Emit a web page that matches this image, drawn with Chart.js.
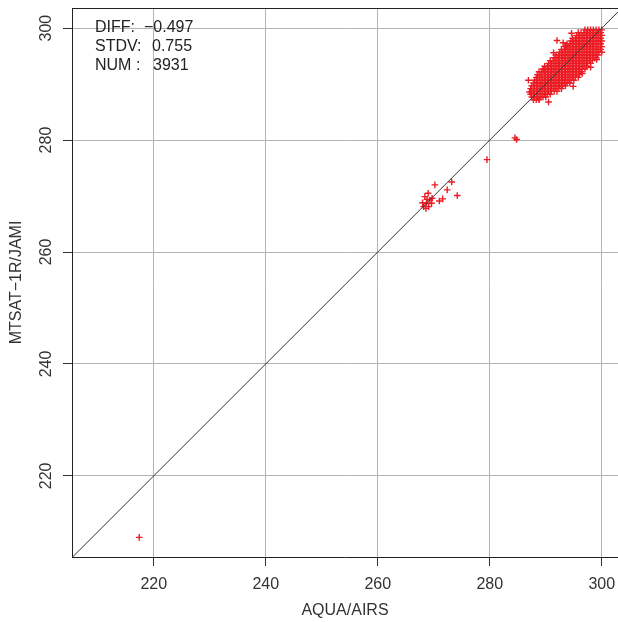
<!DOCTYPE html>
<html lang="en">
<head>
    <meta charset="UTF-8">
    <title>MTSAT-1R/JAMI vs AQUA/AIRS</title>
    <style>
        html, body {
            margin: 0;
            padding: 0;
            background: #ffffff;
            overflow: hidden;
        }
        .chart-box {
            width: 618px;
            height: 622px;
        }
    </style>
</head>
<body>

    <div class="chart-box">
        <canvas id="scatter"></canvas>
    </div>

    <script src="https://cdn.jsdelivr.net/npm/chart.js"></script>
    <script>
        // axis ticks and limits
        const xTicks = [220, 240, 260, 280, 300];
        const yTicks = [220, 240, 260, 280, 300];
        const xLimits = [205.4, 302.9];
        const yLimits = [205.5, 303.6];

        // 1:1 reference line
        const lineX = [200, 310];
        const lineY = [200, 310];

        // statistics printed in the corner
        const statLabels = ["DIFF:", "STDV:", "NUM :"];
        const statValues = ["\u22120.497", "0.755", "3931"];

        // dense cloud near 290-300 K, read row by row (y value, then x values)
        const cloudY = [299.7, 299.2, 298.7, 298.2, 297.7, 297.2, 296.7, 296.2, 295.7, 295.2,
                        294.7, 294.2, 293.7, 293.2, 292.7, 292.2, 291.7, 291.2, 290.7, 290.2,
                        289.7, 289.2, 288.7, 288.2, 287.7, 287.2];
        const cloudX = [
            [297.0, 297.5, 298.0, 298.5, 299.0, 299.5, 300.0],
            [295.8, 296.3, 296.8, 297.3, 297.8, 298.3, 298.8, 299.3, 299.8],
            [295.5, 296.0, 296.5, 297.0, 297.5, 298.0, 298.5, 299.0, 299.5, 300.0],
            [294.8, 295.3, 295.8, 296.3, 296.8, 297.3, 297.8, 298.3, 298.8, 299.3, 299.8],
            [294.5, 295.0, 295.5, 296.0, 296.5, 297.0, 297.5, 298.0, 298.5, 299.0, 299.5, 300.0],
            [293.8, 294.3, 294.8, 295.3, 295.8, 296.3, 296.8, 297.3, 297.8, 298.3, 298.8, 299.3, 299.8],
            [293.5, 294.0, 294.5, 295.0, 295.5, 296.0, 296.5, 297.0, 297.5, 298.0, 298.5, 299.0, 299.5, 300.0],
            [292.8, 293.3, 293.8, 294.3, 294.8, 295.3, 295.8, 296.3, 296.8, 297.3, 297.8, 298.3, 298.8, 299.3, 299.8],
            [292.5, 293.0, 293.5, 294.0, 294.5, 295.0, 295.5, 296.0, 296.5, 297.0, 297.5, 298.0, 298.5, 299.0, 299.5, 300.0],
            [291.8, 292.3, 292.8, 293.3, 293.8, 294.3, 294.8, 295.3, 295.8, 296.3, 296.8, 297.3, 297.8, 298.3, 298.8, 299.3],
            [291.5, 292.0, 292.5, 293.0, 293.5, 294.0, 294.5, 295.0, 295.5, 296.0, 296.5, 297.0, 297.5, 298.0, 298.5, 299.0],
            [290.8, 291.3, 291.8, 292.3, 292.8, 293.3, 293.8, 294.3, 294.8, 295.3, 295.8, 296.3, 296.8, 297.3, 297.8, 298.3],
            [290.5, 291.0, 291.5, 292.0, 292.5, 293.0, 293.5, 294.0, 294.5, 295.0, 295.5, 296.0, 296.5, 297.0, 297.5, 298.0],
            [289.8, 290.3, 290.8, 291.3, 291.8, 292.3, 292.8, 293.3, 293.8, 294.3, 294.8, 295.3, 295.8, 296.3, 296.8, 297.3],
            [289.5, 290.0, 290.5, 291.0, 291.5, 292.0, 292.5, 293.0, 293.5, 294.0, 294.5, 295.0, 295.5, 296.0, 296.5, 297.0],
            [288.8, 289.3, 289.8, 290.3, 290.8, 291.3, 291.8, 292.3, 292.8, 293.3, 293.8, 294.3, 294.8, 295.3, 295.8, 296.3],
            [288.5, 289.0, 289.5, 290.0, 290.5, 291.0, 291.5, 292.0, 292.5, 293.0, 293.5, 294.0, 294.5, 295.0, 295.5, 296.0],
            [288.3, 288.8, 289.3, 289.8, 290.3, 290.8, 291.3, 291.8, 292.3, 292.8, 293.3, 293.8, 294.3, 294.8, 295.3],
            [288.0, 288.5, 289.0, 289.5, 290.0, 290.5, 291.0, 291.5, 292.0, 292.5, 293.0, 293.5, 294.0, 294.5, 295.0],
            [287.8, 288.3, 288.8, 289.3, 289.8, 290.3, 290.8, 291.3, 291.8, 292.3, 292.8, 293.3, 293.8, 294.3],
            [287.5, 288.0, 288.5, 289.0, 289.5, 290.0, 290.5, 291.0, 291.5, 292.0, 292.5, 293.0, 293.5],
            [287.3, 287.8, 288.3, 288.8, 289.3, 289.8, 290.3, 290.8, 291.3, 291.8, 292.3, 292.8],
            [287.5, 288.0, 288.5, 289.0, 289.5, 290.0, 290.5, 291.0, 291.5, 292.0],
            [287.3, 287.8, 288.3, 288.8, 289.3, 289.8, 290.3, 290.8],
            [287.5, 288.0, 288.5, 289.0, 289.5, 290.0],
            [287.8, 288.3, 288.8]
        ];

        // scattered points: cloud edges, the 268-274 K group and lone outliers
        const looseX = [291.4, 294.6, 293.1, 292.0, 286.9, 287.1, 290.5, 288.8, 299.1, 294.9,
                        295.8, 289.6, 293.7, 296.5, 298.0,
                        268.4, 269.0, 269.3, 268.7, 268.2, 268.6, 269.6, 268.0, 269.1, 269.7,
                        268.8, 270.2, 273.2, 272.4, 274.2, 271.6, 271.0,
                        279.5, 284.5, 284.8, 217.4];
        const looseY = [295.6, 299.1, 297.4, 297.8, 290.7, 288.6, 286.8, 287.3, 294.4, 289.6,
                        291.2, 292.6, 296.9, 291.9, 293.0,
                        269.9, 270.5, 269.3, 268.7, 268.1, 267.8, 268.7, 268.8, 268.1, 269.6,
                        269.4, 272.0, 272.5, 271.1, 270.1, 269.5, 269.1,
                        276.5, 280.4, 280.1, 209.0];

        function buildPoints() {
            let pts = [];
            for (let i = 0; i < cloudY.length; i++) {
                cloudX[i].forEach(function (x) { pts.push({ x: x, y: cloudY[i] }); });
            }
            for (let i = 0; i < looseX.length; i++) {
                pts.push({ x: looseX[i], y: looseY[i] });
            }
            return pts;
        }

        // top edge of the plot box and the statistics text
        const boxAndStats = {
            id: "boxAndStats",
            afterDraw(chart) {
                let ctx = chart.ctx;
                let area = chart.chartArea;
                ctx.save();
                ctx.strokeStyle = "#222";
                ctx.lineWidth = 1;
                ctx.beginPath();
                ctx.moveTo(area.left, area.top + 0.5);
                ctx.lineTo(area.right, area.top + 0.5);
                ctx.stroke();

                ctx.fillStyle = "#222";
                ctx.font = "16px 'Liberation Sans', Arial, sans-serif";
                ctx.textBaseline = "alphabetic";
                let valueX = [144, 152, 153];
                for (let i = 0; i < statLabels.length; i++) {
                    let base = 32 + i * 19;
                    ctx.textAlign = "left";
                    ctx.fillText(statLabels[i], 95, base);
                    ctx.fillText(statValues[i], valueX[i], base);
                }
                ctx.restore();
            }
        };

        function fixedTicks(values) {
            return function (scale) {
                scale.ticks = values.map(function (v) { return { value: v }; });
            };
        }

        // no extra room for overhanging tick labels, the box fills the page edge
        function noPadding(scale) {
            scale.paddingLeft = 0;
            scale.paddingRight = 0;
            scale.paddingTop = 0;
            scale.paddingBottom = 0;
        }

        Chart.defaults.font.family = "'Liberation Sans', Arial, sans-serif";
        Chart.defaults.font.size = 16;
        Chart.defaults.color = "#333";

        let ctx = document.getElementById("scatter").getContext("2d");
        new Chart(ctx, {
            type: "scatter",
            data: {
                datasets: [
                    {
                        label: "1:1",
                        data: [{ x: lineX[0], y: lineY[0] }, { x: lineX[1], y: lineY[1] }],
                        showLine: true,
                        borderColor: "#333",
                        borderWidth: 1,
                        pointRadius: 0
                    },
                    {
                        label: "MTSAT-1R vs AIRS",
                        data: buildPoints(),
                        pointStyle: "cross",
                        pointRadius: 3.3,
                        pointBorderWidth: 1.4,
                        borderColor: "#ec1c24",
                        backgroundColor: "#ec1c24"
                    }
                ]
            },
            options: {
                responsive: true,
                maintainAspectRatio: false,
                animation: false,
                layout: { autoPadding: false, padding: { top: 8, right: 0, left: 0, bottom: 0 } },
                plugins: {
                    legend: { display: false },
                    tooltip: { enabled: false }
                },
                scales: {
                    x: {
                        type: "linear",
                        min: xLimits[0],
                        max: xLimits[1],
                        afterBuildTicks: fixedTicks(xTicks),
                        afterFit: function (scale) { scale.height = 65; noPadding(scale); },
                        ticks: { padding: 9, autoSkip: false, maxRotation: 0 },
                        grid: { color: "#b4b4b4", lineWidth: 1, tickLength: 9, tickColor: "#333" },
                        border: { display: true, color: "#222", width: 1 },
                        title: { display: true, text: "AQUA/AIRS", padding: { top: 0, bottom: 2 } }
                    },
                    y: {
                        type: "linear",
                        min: yLimits[0],
                        max: yLimits[1],
                        afterBuildTicks: fixedTicks(yTicks),
                        afterFit: function (scale) { scale.width = 72; noPadding(scale); },
                        ticks: { padding: 3, autoSkip: false, minRotation: 90, maxRotation: 90, crossAlign: "center" },
                        grid: { color: "#b4b4b4", lineWidth: 1, tickLength: 9, tickColor: "#333" },
                        border: { display: true, color: "#222", width: 1 },
                        title: { display: true, text: "MTSAT\u22121R/JAMI", padding: { top: 7, bottom: 0 } }
                    }
                }
            },
            plugins: [boxAndStats]
        });
    </script>

</body>
</html>
